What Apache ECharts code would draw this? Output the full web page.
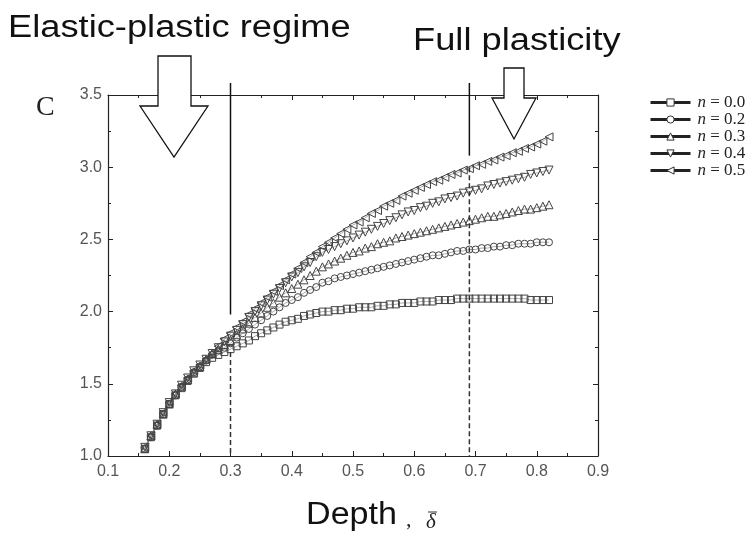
<!DOCTYPE html>
<html>
<head>
<meta charset="utf-8">
<script src="https://cdn.jsdelivr.net/npm/echarts@6/dist/echarts.min.js"></script>
<style>
  html, body { margin: 0; padding: 0; background: #fff; }
  #chart { width: 754px; height: 538px; }
</style>
</head>
<body>
<div id="chart"></div>
<script>
// depth values (x) shared by every curve
var depth = [0.16,0.17,0.18,0.19,0.20,0.21,0.22,0.23,0.24,0.25,0.26,0.27,
  0.28,0.29,0.30,0.31,0.32,0.33,0.34,0.35,0.36,0.37,0.38,0.39,0.40,0.41,0.42,0.43,0.44,0.45,0.46,0.47,
  0.48,0.49,0.50,0.51,0.52,0.53,0.54,0.55,0.56,0.57,0.58,0.59,0.60,0.61,0.62,0.63,0.64,0.65,0.66,0.67,
  0.68,0.69,0.70,0.71,0.72,0.73,0.74,0.75,0.76,0.77,0.78,0.79,0.80,0.81,0.82];

var n00 = [1.05,1.13,1.21,1.29,1.36,1.42,1.47,1.52,1.57,1.61,1.65,1.68,
  1.70,1.72,1.74,1.76,1.78,1.80,1.83,1.85,1.87,1.89,
  1.91,1.93,1.94,1.95,1.97,1.98,1.99,2.00,2.00,2.01,
  2.01,2.02,2.02,2.03,2.03,2.03,2.04,2.04,2.05,2.05,
  2.06,2.06,2.06,2.07,2.07,2.07,2.08,2.08,2.08,2.09,
  2.09,2.09,2.09,2.09,2.09,2.09,2.09,2.09,2.09,2.09,
  2.09,2.08,2.08,2.08,2.08];
var n02 = [1.05,1.13,1.21,1.29,1.36,1.42,1.48,1.53,1.58,1.62,1.66,1.70,
  1.73,1.75,1.78,1.82,1.85,1.88,1.91,1.94,1.97,2.00,
  2.03,2.06,2.08,2.10,2.13,2.15,2.17,2.20,2.21,2.23,
  2.24,2.25,2.26,2.27,2.28,2.29,2.30,2.31,2.32,2.33,
  2.34,2.35,2.36,2.37,2.38,2.39,2.39,2.40,2.41,2.42,
  2.42,2.43,2.43,2.44,2.44,2.45,2.45,2.46,2.46,2.47,
  2.47,2.47,2.48,2.48,2.48];
var n03 = [1.05,1.14,1.22,1.29,1.36,1.43,1.48,1.53,1.58,1.62,1.67,1.71,
  1.74,1.77,1.80,1.84,1.88,1.92,1.96,1.99,2.03,2.06,
  2.10,2.13,2.16,2.19,2.22,2.25,2.28,2.31,2.33,2.35,
  2.37,2.39,2.41,2.42,2.44,2.45,2.47,2.48,2.49,2.51,
  2.52,2.53,2.54,2.55,2.56,2.57,2.58,2.59,2.60,2.61,
  2.62,2.63,2.64,2.65,2.66,2.66,2.67,2.68,2.69,2.70,
  2.71,2.71,2.72,2.73,2.74];
var n04 = [1.06,1.14,1.22,1.30,1.37,1.43,1.49,1.54,1.59,1.63,1.67,1.71,
  1.75,1.79,1.83,1.87,1.91,1.96,2.00,2.04,2.08,2.12,
  2.16,2.20,2.24,2.27,2.31,2.34,2.38,2.41,2.43,2.45,
  2.47,2.49,2.51,2.53,2.55,2.57,2.59,2.61,2.63,2.65,
  2.67,2.69,2.70,2.72,2.73,2.75,2.76,2.78,2.79,2.80,
  2.82,2.83,2.84,2.85,2.87,2.88,2.89,2.90,2.91,2.92,
  2.93,2.95,2.96,2.97,2.98];
var n05 = [1.06,1.14,1.22,1.30,1.37,1.43,1.49,1.54,1.59,1.63,1.67,1.71,
  1.76,1.81,1.85,1.89,1.93,1.98,2.02,2.06,2.10,2.14,
  2.18,2.22,2.26,2.30,2.34,2.38,2.41,2.45,2.48,2.51,
  2.54,2.57,2.60,2.62,2.65,2.68,2.70,2.73,2.75,2.77,
  2.80,2.82,2.84,2.86,2.88,2.90,2.91,2.93,2.95,2.96,
  2.98,2.99,3.01,3.02,3.04,3.05,3.07,3.08,3.10,3.11,
  3.13,3.14,3.16,3.18,3.21];

var names = ['n = 0.0', 'n = 0.2', 'n = 0.3', 'n = 0.4', 'n = 0.5'];
var symbols = ['rect', 'circle', 'triangle', 'triangle', 'triangle'];
var rotations = [0, 0, 0, 180, 90];
var sizes = [7, 7, 8, 8, 8];
var curves = [n00, n02, n03, n04, n05];

// regime boundaries: x, bottom of solid part, top of dashed part
var boundX = [0.3, 0.69];
var solidEnd = [1.98, 3.08];
var dashStart = [1.72, 3.0];

var xTicks = [0.1, 0.2, 0.3, 0.4, 0.5, 0.6, 0.7, 0.8, 0.9];
var yTicks = [1.0, 1.5, 2.0, 2.5, 3.0, 3.5];

var chart = echarts.init(document.getElementById('chart'));

var series = curves.map(function (ys, i) {
  return {
    name: names[i],
    type: 'line',
    data: depth.map(function (x, k) { return [x, ys[k]]; }),
    symbol: symbols[i],
    symbolRotate: rotations[i],
    symbolSize: sizes[i],
    showAllSymbol: true,
    animation: false,
    lineStyle: { color: '#888', width: 0.7 },
    itemStyle: { color: 'rgba(255,255,255,0)', borderColor: '#444', borderWidth: 1 },
    emphasis: { disabled: true }
  };
});

var tickCommon = {
  axisLine: { lineStyle: { color: '#222', width: 1.2 } },
  axisTick: { inside: true, length: 5, lineStyle: { color: '#222' } },
  minorTick: { show: true, splitNumber: 2, length: 3, lineStyle: { color: '#222' } },
  splitLine: { show: false },
  minorSplitLine: { show: false }
};

var labelFont = { color: '#555', fontSize: 16, fontFamily: 'Arial, Liberation Sans' };

var option = {
  backgroundColor: '#fff',
  animation: false,
  grid: { left: 108, right: 156, top: 95, bottom: 82 },
  xAxis: [
    Object.assign({
      type: 'value', min: xTicks[0], max: xTicks[xTicks.length - 1], interval: 0.1,
      axisLabel: Object.assign({ margin: 8, formatter: function (v) { return v.toFixed(1); } }, labelFont)
    }, tickCommon),
    Object.assign({
      type: 'value', position: 'top', min: 0.1, max: 0.9, interval: 0.1,
      axisLabel: { show: false }
    }, tickCommon)
  ],
  yAxis: [
    Object.assign({
      type: 'value', min: yTicks[0], max: yTicks[yTicks.length - 1], interval: 0.5,
      axisLabel: Object.assign({ margin: 6, formatter: function (v) { return v.toFixed(1); } }, labelFont)
    }, tickCommon),
    Object.assign({
      type: 'value', position: 'right', min: 1.0, max: 3.5, interval: 0.5,
      axisLabel: { show: false }
    }, tickCommon)
  ],
  legend: {
    orient: 'vertical',
    left: 644,
    top: 89,
    itemWidth: 40,
    itemHeight: 9,
    itemGap: 0,
    selectedMode: false,
    lineStyle: { width: 3, color: '#222' },
    itemStyle: { color: '#fff', borderColor: '#333', borderWidth: 1 },
    formatter: function (name) { return '{i|n}' + name.slice(1); },
    textStyle: {
      fontFamily: 'Liberation Serif, Times New Roman, serif', fontSize: 17, color: '#222',
      lineHeight: 15, padding: [0, 0, 0, 2],
      rich: { i: { fontStyle: 'italic', fontFamily: 'Liberation Serif, serif', fontSize: 17, lineHeight: 15, color: '#222' } }
    },
    data: names
  },
  series: series
};
chart.setOption(option);

// annotations on top of the grid
var g = [];
boundX.forEach(function (bx, i) {
  var pTop = chart.convertToPixel({ xAxisIndex: 0, yAxisIndex: 0 }, [bx, solidEnd[i]]);
  var pDash = chart.convertToPixel({ xAxisIndex: 0, yAxisIndex: 0 }, [bx, dashStart[i]]);
  var pBot = chart.convertToPixel({ xAxisIndex: 0, yAxisIndex: 0 }, [bx, 1.0]);
  g.push({ type: 'line', shape: { x1: pTop[0], y1: 83, x2: pTop[0], y2: pTop[1] },
    style: { stroke: '#111', lineWidth: 1.5 }, z: 10 });
  g.push({ type: 'line', shape: { x1: pDash[0], y1: pDash[1], x2: pBot[0], y2: pBot[1] },
    style: { stroke: '#333', lineWidth: 1.5, lineDash: [5, 3] }, z: 10 });
});

g.push({ type: 'polygon', z: 11,
  shape: { points: [[158, 56], [191, 56], [191, 106], [208, 106], [174, 157], [140, 106], [158, 106]] },
  style: { fill: '#fff', stroke: '#111', lineWidth: 1.3 } });
g.push({ type: 'polygon', z: 11,
  shape: { points: [[504, 68], [524, 68], [524, 98], [536, 98], [514, 139], [492, 98], [504, 98]] },
  style: { fill: '#fff', stroke: '#111', lineWidth: 1.3 } });

g.push({ type: 'text', x: 8, y: 44, scaleX: 1.17, z: 12,
  style: { text: 'Elastic-plastic regime', font: '31px Arial, "Liberation Sans"', fill: '#111', textVerticalAlign: 'bottom' } });
g.push({ type: 'text', x: 413, y: 57, scaleX: 1.17, z: 12,
  style: { text: 'Full plasticity', font: '31px Arial, "Liberation Sans"', fill: '#111', textVerticalAlign: 'bottom' } });
g.push({ type: 'text', x: 36, y: 94, z: 12,
  style: { text: 'C', font: '28px "Liberation Serif", serif', fill: '#222' } });
g.push({ type: 'text', x: 306, y: 531, scaleX: 1.1, z: 12,
  style: { text: 'Depth', font: '31px Arial, "Liberation Sans"', fill: '#111', textVerticalAlign: 'bottom' } });
g.push({ type: 'text', x: 406, y: 531, z: 12,
  style: { text: ',', font: '22px "Liberation Serif", serif', fill: '#222', textVerticalAlign: 'bottom' } });
g.push({ type: 'text', x: 426, y: 533, z: 12,
  style: { text: 'δ', font: 'italic 21px "Liberation Serif", serif', fill: '#222', textVerticalAlign: 'bottom' } });
g.push({ type: 'line', z: 12, shape: { x1: 428, y1: 512, x2: 437, y2: 512 },
  style: { stroke: '#333', lineWidth: 1 } });

chart.setOption({ graphic: g });
</script>
</body>
</html>
